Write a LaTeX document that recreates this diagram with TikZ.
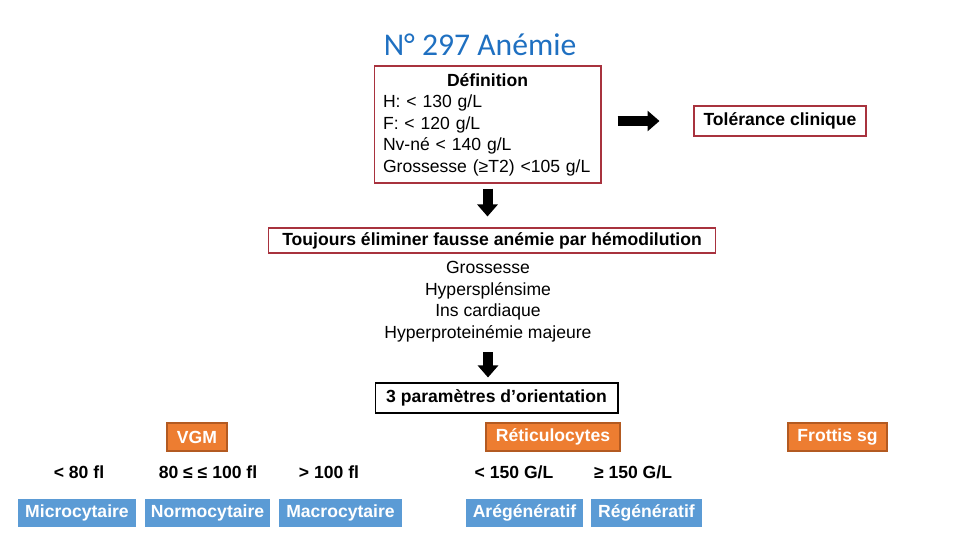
\documentclass[tikz,border=0pt]{standalone}
\usepackage{fontspec}
\setmainfont{Liberation Sans}
\newfontfamily\titlefont{Carlito}
\usepackage{tikz}
\usetikzlibrary{arrows.meta,positioning}
\definecolor{TitleBlue}{HTML}{1F70C1}
\definecolor{FrameRed}{HTML}{A8323E}
\definecolor{ParamOrange}{HTML}{ED7D31}
\definecolor{ParamEdge}{HTML}{B35A21}
\definecolor{ClassBlue}{HTML}{5B9BD5}

\begin{document}
\begin{tikzpicture}[
        x=0.02cm, y=-0.02cm,
        font=\fontsize{10}{12.24}\selectfont,
        redbox/.style={
            draw=FrameRed,
            line width=0.6pt,
            inner sep=0pt,
            align=center
        },
        param/.style={
            fill=ParamOrange,
            draw=ParamEdge,
            line width=0.8pt,
            text=white,
            font=\fontsize{10}{12}\selectfont\bfseries,
            minimum height=0.56cm,
            inner sep=0pt
        },
        seuil/.style={font=\fontsize{10}{12}\selectfont\bfseries},
        classe/.style={
            fill=ClassBlue,
            text=white,
            font=\fontsize{10}{12}\selectfont\bfseries,
            minimum height=0.56cm,
            inner sep=0pt
        },
        bigarr/.style={-{Triangle[length=0.24cm, width=0.4cm]}, line width=0.2cm}
    ]
        \useasboundingbox (0,0) rectangle (960,540);

        \node[text=TitleBlue, font=\titlefont\fontsize{18}{20}\selectfont] (titre) at (480,45) {N° 297 Anémie};

        \node[redbox, minimum width=4.54cm, minimum height=2.34cm, text width=4.18cm, align=left] (def) at (487.5,124.5)
            {\centering\textbf{Définition}\par\raggedright
             H: < 130 g/L\\F: < 120 g/L\\Nv-né < 140 g/L\\Grossesse (≥T2) <105 g/L};
        \node[redbox, minimum width=3.44cm, minimum height=0.6cm, font=\fontsize{10}{12}\selectfont\bfseries] (tol) at (780,121) {Tolérance clinique};

        \node[redbox, minimum width=8.96cm, minimum height=0.5cm, font=\fontsize{10}{12}\selectfont\bfseries] (tou) at (492,240.5)
            {Toujours éliminer fausse anémie par hémodilution};
        \node[align=center, inner sep=0pt] (lst) at (488,301.5)
            {Grossesse\\Hyperspl\'ensime\\Ins cardiaque\\Hyperproteinémie majeure};

        \node[draw=black, line width=0.6pt, minimum width=4.86cm, minimum height=0.6cm, inner sep=0pt,
            font=\fontsize{10}{12}\selectfont\bfseries] (par) at (496.5,398) {3 paramètres d’orientation};

        \draw[bigarr, shorten <=0.32cm, shorten >=0.68cm] (def.east |- tol.west) -- (tol.west);
        \draw[bigarr, shorten <=0.1cm, shorten >=0.22cm] (def.south) -- (def.south |- tou.north);
        \draw[bigarr, shorten <=0.2cm, shorten >=0.1cm] (lst.south) -- (lst.south |- par.north);

        % trois paramètres
        \node[param, minimum width=1.2cm] (vgm) at (197,437) {VGM};
        \node[param, minimum width=2.68cm] (reti) at (553,437) {Réticulocytes};
        \node[param, minimum width=1.98cm] (frot) at (837.5,437) {Frottis sg};

        \node[seuil] (s1) at (79,472) {< 80 fl};
        \node[seuil] (s2) at (208,472) {80 ≤ ≤ 100 fl};
        \node[seuil] (s3) at (329,472) {> 100 fl};
        \node[seuil] (s4) at (514,472) {< 150 G/L};
        \node[seuil] (s5) at (633,472) {≥ 150 G/L};

        \node[classe, minimum width=2.36cm] (micro) at (77,513) {Microcytaire};
        \node[classe, minimum width=2.5cm] (normo) at (207.5,513) {Normocytaire};
        \node[classe, minimum width=2.46cm] (macro) at (340.5,513) {Macrocytaire};
        \node[classe, minimum width=2.34cm] (areg) at (524.5,513) {Arégénératif};
        \node[classe, minimum width=2.22cm] (reg) at (646.5,513) {Régénératif};
    \end{tikzpicture}
\end{document}
